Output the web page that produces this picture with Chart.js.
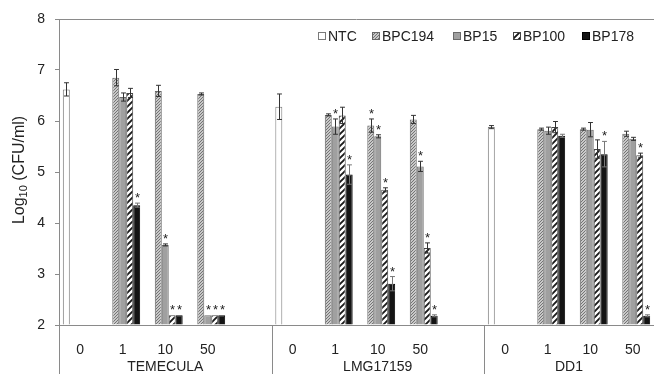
<!DOCTYPE html>
<html><head><meta charset="utf-8">
<script src="https://cdn.jsdelivr.net/npm/chart.js@4"></script>
<style>html,body{margin:0;padding:0;background:#fff}#wrap{width:654px;height:374px}</style>
</head><body><div id="wrap"><canvas id="c" width="654" height="374"></canvas></div>
<script>
// ---- data ----
const categories = ['0','1','10','50','', '0','1','10','50','', '0','1','10','50'];
const groups = ['TEMECULA','LMG17159','DD1'];
const seriesNames = ['NTC','BPC194','BP15','BP100','BP178'];
const ntc    = [6.62,null,null,null,null, 6.28,null,null,null,null, 5.88,null,null,null];
const bpc194 = [null,6.85,6.59,6.53,null, null,6.12,5.91,6.03,null, null,5.84,5.84,5.75];
const bp15   = [null,6.47,3.57,2.19,null, null,5.89,5.70,5.11,null, null,5.81,5.83,5.65];
const bp100  = [null,6.55,2.19,2.19,null, null,6.11,4.65,3.51,null, null,5.88,5.45,5.33];
const bp178  = [null,4.35,2.19,2.19,null, null,4.95,2.81,2.18,null, null,5.71,5.35,2.18];
const ntcErr    = [0.13,0,0,0,0, 0.25,0,0,0,0, 0.03,0,0,0];
const bpc194Err = [0,0.16,0.11,0.02,0, 0,0.02,0.13,0.08,0, 0,0.02,0.02,0.05];
const bp15Err   = [0,0.08,0.02,0,0, 0,0.15,0.03,0.10,0, 0,0.07,0.14,0.03];
const bp100Err  = [0,0.09,0,0,0, 0,0.16,0.04,0.10,0, 0,0.11,0.18,0.04];
const bp178Err  = [0,0.04,0,0,0, 0,0.19,0.14,0.02,0, 0,0.03,0.25,0.02];
const ntcStar    = [0,0,0,0,0, 0,0,0,0,0, 0,0,0,0];
const bpc194Star = [0,0,0,0,0, 0,0,1,0,0, 0,0,0,0];
const bp15Star   = [0,0,1,1,0, 0,1,1,1,0, 0,0,0,0];
const bp100Star  = [0,0,1,1,0, 0,0,1,1,0, 0,0,0,1];
const bp178Star  = [0,1,1,1,0, 0,1,1,1,0, 0,0,1,1];
const yTicks = [2,3,4,5,6,7,8];

const errs = [ntcErr,bpc194Err,bp15Err,bp100Err,bp178Err];
const stars = [ntcStar,bpc194Star,bp15Star,bp100Star,bp178Star];

// ---- patterns ----
function hatch(size, bg, fg, lw){
  const c=document.createElement('canvas'); c.width=size; c.height=size;
  const g=c.getContext('2d');
  g.fillStyle=bg; g.fillRect(0,0,size,size);
  g.strokeStyle=fg; g.lineWidth=lw;
  g.beginPath();
  g.moveTo(-1,size+1); g.lineTo(size+1,-1);
  g.moveTo(-size/2-1,size/2+1); g.lineTo(size/2+1,-size/2-1);
  g.moveTo(size/2-1,size*1.5+1); g.lineTo(size*1.5+1,size/2-1);
  g.stroke();
  return document.getElementById('c').getContext('2d').createPattern(c,'repeat');
}
const finePat = hatch(3,'#c8c8c8','#5e5e5e',0.8);
const stripePat = hatch(6,'#ffffff','#1a1a1a',1.9);

const fills = ['#ffffff', finePat, '#a0a0a0', stripePat, '#141414'];
const borders = ['#7a7a7a', '#666666', '#6a6a6a', '#444444', '#000000'];
const values = [ntc,bpc194,bp15,bp100,bp178];

const FONT = "'Liberation Sans', Arial, sans-serif";
const AXIS = '#8a8a8a';

const extras = {
  id:'extras',
  afterDatasetsDraw(chart){
    const ctx=chart.ctx, ys=chart.scales.y;
    ctx.save();
    chart.data.datasets.forEach((ds,i)=>{
      const meta=chart.getDatasetMeta(i);
      meta.data.forEach((bar,j)=>{
        const v=ds.data[j]; if(v==null) return;
        const e=errs[i][j]||0;
        const x=Math.round(bar.x)+0.5, hw=bar.width*0.35;
        const yt=ys.getPixelForValue(v+e), yb=ys.getPixelForValue(v-e);
        if(e>0){
          ctx.strokeStyle= i===4 ? '#777' : '#333'; ctx.lineWidth=1;
          ctx.beginPath();
          ctx.moveTo(x,yt); ctx.lineTo(x,yb);
          ctx.moveTo(x-hw,yt); ctx.lineTo(x+hw,yt);
          ctx.moveTo(x-hw,yb); ctx.lineTo(x+hw,yb);
          ctx.stroke();
        }
        if(stars[i][j]){
          ctx.fillStyle='#222'; ctx.font='13px '+FONT;
          ctx.textAlign='center'; ctx.textBaseline='alphabetic';
          ctx.fillText('*', x, yt-1);
        }
      });
    });
    ctx.restore();
  },
  afterDraw(chart){
    const ctx=chart.ctx, a=chart.chartArea, xs=chart.scales.x;
    ctx.save();
    ctx.strokeStyle=AXIS; ctx.lineWidth=1;
    // top border
    ctx.beginPath(); ctx.moveTo(a.left, a.top+0.5); ctx.lineTo(a.right, a.top+0.5); ctx.stroke();
    // group separators below axis
    const half=(xs.getPixelForValue(1)-xs.getPixelForValue(0))/2;
    const bounds=[];
    for(let g=0; g<groups.length; g++){
      const s=xs.getPixelForValue(g*5)-half;
      bounds.push([s, g<groups.length-1 ? xs.getPixelForValue(g*5+4)+half : a.right]);
      ctx.beginPath(); ctx.moveTo(Math.round(s)+0.5, a.bottom); ctx.lineTo(Math.round(s)+0.5, chart.height); ctx.stroke();
    }
    ctx.fillStyle='#222'; ctx.font='14px '+FONT; ctx.textAlign='center'; ctx.textBaseline='middle';
    bounds.forEach((b,g)=>{ ctx.fillText(groups[g], (b[0]+b[1])/2, 367); });
    // y-axis title with subscript
    ctx.translate(19, 170); ctx.rotate(-Math.PI/2);
    const f1='16px '+FONT, f2='11px '+FONT;
    ctx.font=f1; const w1=ctx.measureText('Log').width, w3=ctx.measureText(' (CFU/ml)').width;
    ctx.font=f2; const w2=ctx.measureText('10').width;
    let x0=-(w1+w2+w3)/2;
    ctx.textAlign='left'; ctx.textBaseline='alphabetic';
    ctx.font=f1; ctx.fillText('Log', x0, 5);
    ctx.font=f2; ctx.fillText('10', x0+w1, 8);
    ctx.font=f1; ctx.fillText(' (CFU/ml)', x0+w1+w2, 5);
    ctx.setTransform(1,0,0,1,0,0);
    // legend
    const lx=[318,372,453,513,582];
    ctx.font='14px '+FONT; ctx.textBaseline='middle'; ctx.textAlign='left';
    seriesNames.forEach((n,i)=>{
      ctx.fillStyle=fills[i]; ctx.fillRect(lx[i],32,8,8);
      ctx.strokeStyle=borders[i]; ctx.lineWidth=1; ctx.strokeRect(lx[i]+0.5,32.5,7,7);
      ctx.fillStyle='#222'; ctx.fillText(n, lx[i]+10, 37);
    });
    ctx.restore();
  }
};

new Chart(document.getElementById('c'), {
  type:'bar',
  data:{
    labels:categories,
    datasets: seriesNames.map((n,i)=>({
      label:n, data:values[i], base:2,
      backgroundColor:fills[i], borderColor:borders[i], borderWidth:1,
      categoryPercentage:0.82, barPercentage:1.0
    }))
  },
  options:{
    responsive:false, animation:false, devicePixelRatio:1,
    layout:{padding:{top:19,right:0,bottom:0,left:0}},
    plugins:{legend:{display:false}, tooltip:{enabled:false}},
    scales:{
      x:{
        grid:{display:false},
        border:{display:true,color:AXIS},
        ticks:{font:{size:14,family:FONT},color:'#222',padding:9,autoSkip:false,maxRotation:0},
        afterFit(s){ s.height=49; }
      },
      y:{
        min:2, max:8,
        afterBuildTicks(s){ s.ticks=yTicks.map(v=>({value:v})); },
        grid:{drawOnChartArea:false, drawTicks:true, tickLength:4, color:AXIS},
        border:{display:true,color:AXIS},
        ticks:{font:{size:14,family:FONT},color:'#222',padding:10},
        afterFit(s){ s.width=59; }
      }
    }
  },
  plugins:[extras]
});
</script>
</body></html>
